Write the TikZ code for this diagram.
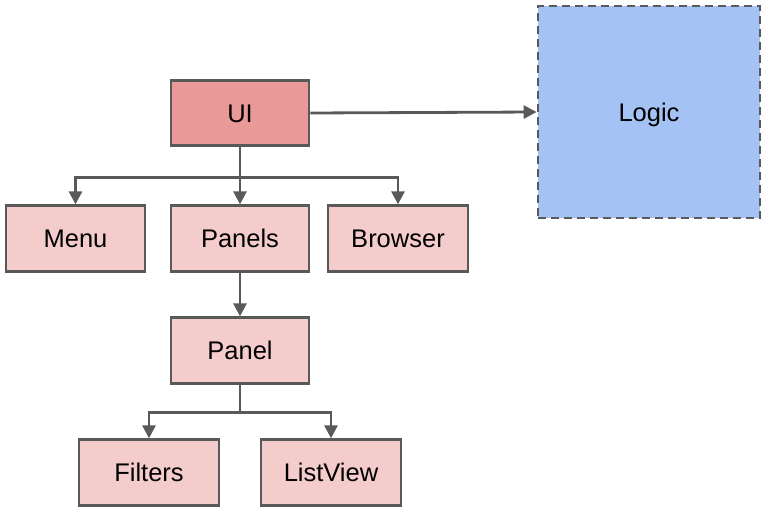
\documentclass[tikz,border=0pt]{standalone}
\usepackage{fontspec}
\setmainfont{Liberation Sans}
\usetikzlibrary{arrows.meta}
\definecolor{uired}{HTML}{EA9999}
\definecolor{uipink}{HTML}{F4CCCC}
\definecolor{logicblue}{HTML}{A4C2F4}
\definecolor{edgegray}{HTML}{595959}
\tikzset{
    box/.style={draw=edgegray, line width=2.8pt, fill=uipink, inner sep=0pt,
        minimum width=138pt, minimum height=65.5pt, text height=23pt, text depth=4.7pt,
        font=\fontsize{25.5}{30}\selectfont},
    conn/.style={draw=edgegray, line width=2.8pt, -{Triangle[length=13pt,width=13pt]}}
}
\begin{document}
\begin{tikzpicture}[x=1pt, y=-1pt]
    \useasboundingbox (0,0) rectangle (765,513);

    % Top level
    \node[box, fill=uired] (ui) at (240,113) {UI};
    \node[box, fill=logicblue, dash pattern=on 8pt off 5pt, minimum width=222pt, minimum height=212pt] (logic) at (649,112) {Logic};

    % UI parts
    \node[box, minimum width=139pt] (menu) at (75.5,238.5) {Menu};
    \node[box] (panels) at (240,238.5) {Panels};
    \node[box, minimum width=140pt] (browser) at (398,238.5) {Browser};

    % Panel parts
    \node[box] (panel) at (240,350.5) {Panel};
    \node[box, minimum width=140pt] (filters) at (149,472.5) {Filters};
    \node[box, minimum width=140pt] (listview) at (331,472.5) {ListView};

    % Connectors
    \draw[conn] (ui.east) -- (logic.west);
    \draw[conn] (ui.south) -- ++(0,30) -| (menu.north);
    \draw[conn] (ui.south) -- (panels.north);
    \draw[conn] (ui.south) -- ++(0,30) -| (browser.north);
    \draw[conn] (panels.south) -- (panel.north);
    \draw[conn] (panel.south) -- ++(0,28) -| (filters.north);
    \draw[conn] (panel.south) -- ++(0,28) -| (listview.north);
\end{tikzpicture}
\end{document}
